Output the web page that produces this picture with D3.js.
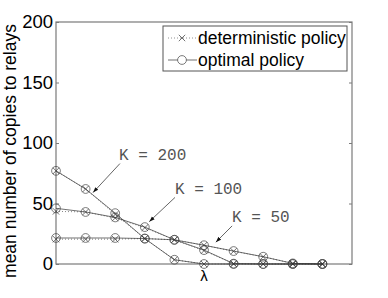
<!DOCTYPE html>
<html>
<head>
<meta charset="utf-8">
<script src="https://cdn.jsdelivr.net/npm/d3@7"></script>
<style>
  body { margin: 0; background: #fff; }
  svg { display: block; }
</style>
</head>
<body>
<script>
let width = 388
let height = 298
let margin = { top: 22, right: 36, bottom: 34, left: 56 }

// lambda steps along the x axis (no tick labels in the original)
let steps = [0, 1, 2, 3, 4, 5, 6, 7, 8, 9]
let yTicks = [0, 50, 100, 150, 200]

// optimal policy, one array per K
let optK200 = [77, 62, 42, 21, 3.5, 0, 0, 0, 0, 0]
let optK100 = [46, 43, 38.5, 30.5, 20, 11.5, 0.3, 0, 0, 0]
let optK50 = [21.5, 21.5, 21.5, 21, 20, 15.5, 10.7, 6, 0.5, 0]

// deterministic policy
let detK200 = [77, 62, 41, 21, 3.5, 0, 0, 0, 0, 0]
let detK100 = [43.5, 43, 38, 30, 20, 11, 0.3, 0, 0, 0]
let detK50 = [20.5, 20.5, 20.5, 21, 20, 15.5, 10.5, 6, 0.5, 0]

let kLabels = ["K = 200", "K = 100", "K = 50"]
// annotation anchors in data units: [textX, textY, tailX, tailY, headX, headY]
let kNotes = [
  [2.13, 86, 2.16, 83, 1.25, 59],
  [4.02, 58, 4.02, 55, 3.15, 35],
  [5.95, 35, 5.95, 31.5, 5.4, 18]
]

let svg = d3.select("body").append("svg")
  .attr("width", width)
  .attr("height", height)

let x = d3.scaleLinear().domain([0, 10]).range([margin.left, width - margin.right])
let y = d3.scaleLinear().domain([0, 200]).range([height - margin.bottom, margin.top])

let font = "'Liberation Sans', Arial, sans-serif"
let axisGray = "#7a7a7a"

// frame
svg.append("rect")
  .attr("x", x(0)).attr("y", y(200))
  .attr("width", x(10) - x(0)).attr("height", y(0) - y(200))
  .attr("fill", "none").attr("stroke", axisGray).attr("stroke-width", 1.2)

// y axis left, ticks pointing inside
let yAxis = svg.append("g")
  .attr("transform", "translate(" + x(0) + ",0)")
  .call(d3.axisLeft(y).tickValues(yTicks).tickSize(-3).tickPadding(3))
yAxis.select(".domain").remove()
yAxis.selectAll("line").attr("stroke", axisGray)
yAxis.selectAll("text").attr("font-family", font).attr("font-size", 18.5).attr("fill", "#000")

// mirrored ticks on the right
let yRight = svg.append("g")
  .attr("transform", "translate(" + x(10) + ",0)")
  .call(d3.axisRight(y).tickValues(yTicks).tickSize(-3).tickFormat(""))
yRight.select(".domain").remove()
yRight.selectAll("line").attr("stroke", axisGray)

// axis labels
svg.append("text")
  .attr("transform", "translate(16," + ((y(0) + y(200)) / 2 + 8) + ") rotate(-90)")
  .attr("text-anchor", "middle")
  .attr("font-family", font).attr("font-size", 17.5)
  .text("mean number of copies to relays")

svg.append("text")
  .attr("x", (x(0) + x(10)) / 2).attr("y", y(0) + 17)
  .attr("text-anchor", "middle")
  .attr("font-family", font).attr("font-size", 15)
  .text("λ")

let line = d3.line().x((d, i) => x(steps[i])).y(d => y(d))

let drawCross = (g, cx, cy, s) => {
  g.append("path")
    .attr("d", "M" + (cx - s) + "," + (cy - s) + "L" + (cx + s) + "," + (cy + s) +
      "M" + (cx - s) + "," + (cy + s) + "L" + (cx + s) + "," + (cy - s))
    .attr("stroke", "#333").attr("stroke-width", 0.7).attr("fill", "none")
}

let detSeries = [detK200, detK100, detK50]
let optSeries = [optK200, optK100, optK50]

// deterministic: dotted line + x markers
detSeries.forEach(vals => {
  svg.append("path").datum(vals)
    .attr("d", line)
    .attr("fill", "none").attr("stroke", "#666")
    .attr("stroke-width", 0.8).attr("stroke-dasharray", "1,2")
  vals.forEach((v, i) => drawCross(svg, x(steps[i]), y(v), 3.2))
})

// optimal: solid line + circle markers
optSeries.forEach(vals => {
  svg.append("path").datum(vals)
    .attr("d", line)
    .attr("fill", "none").attr("stroke", "#333").attr("stroke-width", 0.7)
  svg.selectAll(null).data(vals).enter().append("circle")
    .attr("cx", (d, i) => x(steps[i]))
    .attr("cy", d => y(d))
    .attr("r", 4.4)
    .attr("fill", "none").attr("stroke", "#444").attr("stroke-width", 0.7)
})

// annotations
svg.append("defs").append("marker")
  .attr("id", "ah").attr("viewBox", "0 0 10 10")
  .attr("refX", 10).attr("refY", 5)
  .attr("markerWidth", 8).attr("markerHeight", 8)
  .attr("orient", "auto")
  .append("path").attr("d", "M0,1.5L10,5L0,8.5z").attr("fill", "#111")

kNotes.forEach((n, i) => {
  svg.append("text")
    .attr("x", x(n[0])).attr("y", y(n[1]))
    .attr("font-family", "'Liberation Mono', 'Courier New', monospace")
    .attr("font-size", 16).attr("fill", "#555")
    .attr("xml:space", "preserve")
    .text(kLabels[i])
  svg.append("line")
    .attr("x1", x(n[2])).attr("y1", y(n[3]))
    .attr("x2", x(n[4])).attr("y2", y(n[5]))
    .attr("stroke", "#222").attr("stroke-width", 0.7)
    .attr("marker-end", "url(#ah)")
})

// legend
let lg = svg.append("g")
lg.append("rect")
  .attr("x", 163).attr("y", 26).attr("width", 184).attr("height", 45)
  .attr("fill", "#fff").attr("stroke", "#555").attr("stroke-width", 1)

lg.append("line").attr("x1", 168).attr("x2", 197).attr("y1", 38).attr("y2", 38)
  .attr("stroke", "#777").attr("stroke-width", 0.8).attr("stroke-dasharray", "1,2")
drawCross(lg, 182, 38, 3.2)
lg.append("text").attr("x", 198).attr("y", 44)
  .attr("font-family", font).attr("font-size", 17.5).text("deterministic policy")

lg.append("line").attr("x1", 168).attr("x2", 197).attr("y1", 60).attr("y2", 60)
  .attr("stroke", "#333").attr("stroke-width", 0.7)
lg.append("circle").attr("cx", 182).attr("cy", 60).attr("r", 4.4)
  .attr("fill", "#fff").attr("stroke", "#444").attr("stroke-width", 0.7)
lg.append("text").attr("x", 198).attr("y", 66)
  .attr("font-family", font).attr("font-size", 17.5).text("optimal policy")
</script>
</body>
</html>
